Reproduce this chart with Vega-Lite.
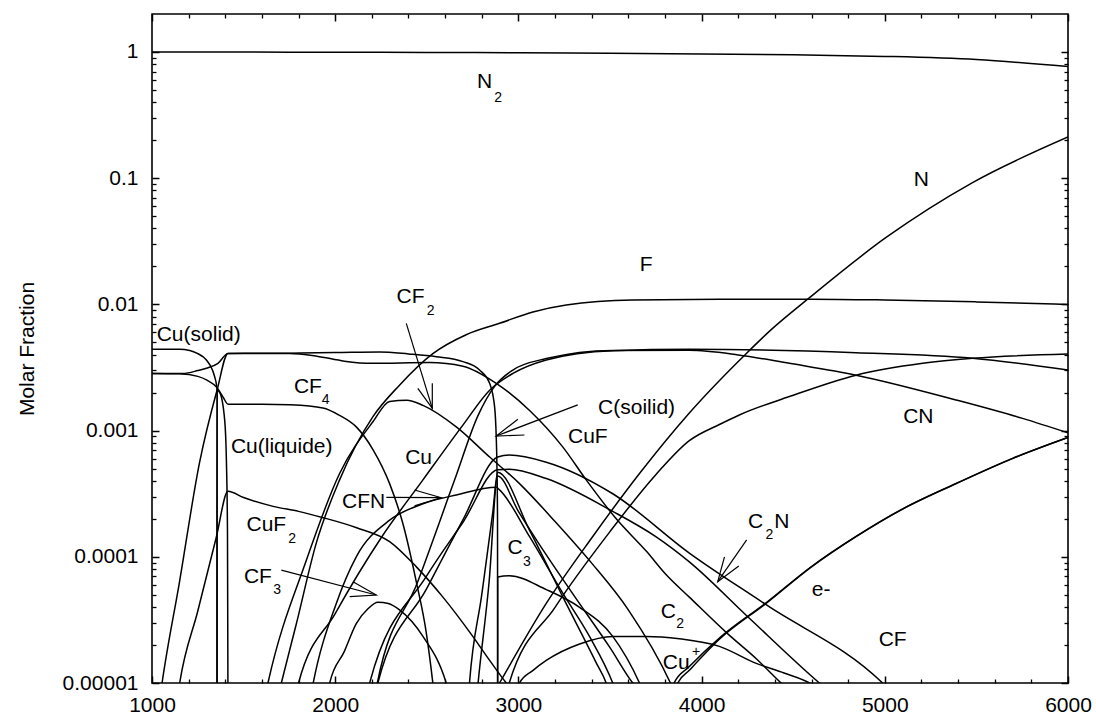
{
"$schema":"https://vega.github.io/schema/vega-lite/v6.json",
"width":916,"height":669,
"autosize":{"type":"none"},
"padding":{"left":152,"top":14,"right":28,"bottom":32},
"background":"white",
"config":{"view":{"stroke":"black","strokeWidth":1.6},"font":"Liberation Sans","axis":{"grid":false}},
"datasets":{
"curves":[
{"s":"N2","T":1000,"v":1},{"s":"N2","T":1500,"v":0.998},{"s":"N2","T":2000,"v":0.995},{"s":"N2","T":2500,"v":0.991},{"s":"N2","T":3000,"v":0.986},{"s":"N2","T":3500,"v":0.977},{"s":"N2","T":4000,"v":0.966},{"s":"N2","T":4500,"v":0.95},{"s":"N2","T":5000,"v":0.923},{"s":"N2","T":5500,"v":0.871},{"s":"N2","T":6000,"v":0.767},
{"s":"N","T":2850,"v":0.0000076},{"s":"N","T":2897,"v":0.00001},{"s":"N","T":3152,"v":0.0000427},{"s":"N","T":3400,"v":0.000141},{"s":"N","T":3661,"v":0.000457},{"s":"N","T":3933,"v":0.00138},{"s":"N","T":4243,"v":0.00407},{"s":"N","T":4380,"v":0.00631},{"s":"N","T":4579,"v":0.011},{"s":"N","T":5007,"v":0.0339},{"s":"N","T":5479,"v":0.0923},{"s":"N","T":6000,"v":0.212},
{"s":"F","T":1680,"v":0.000007},{"s":"F","T":1706,"v":0.00001},{"s":"F","T":1788,"v":0.0000295},{"s":"F","T":1897,"v":0.000129},{"s":"F","T":2024,"v":0.000407},{"s":"F","T":2206,"v":0.00129},{"s":"F","T":2351,"v":0.00229},{"s":"F","T":2533,"v":0.00407},{"s":"F","T":2715,"v":0.00575},{"s":"F","T":2897,"v":0.00708},{"s":"F","T":3079,"v":0.00871},{"s":"F","T":3261,"v":0.00989},{"s":"F","T":3624,"v":0.01084},{"s":"F","T":4097,"v":0.01096},{"s":"F","T":4600,"v":0.011},{"s":"F","T":5000,"v":0.01084},{"s":"F","T":5500,"v":0.01047},{"s":"F","T":6000,"v":0.01},
{"s":"CF2","T":1610,"v":0.000007},{"s":"CF2","T":1633,"v":0.00001},{"s":"CF2","T":1842,"v":0.0000933},{"s":"CF2","T":2024,"v":0.000457},{"s":"CF2","T":2206,"v":0.001175},{"s":"CF2","T":2297,"v":0.0017},{"s":"CF2","T":2390,"v":0.00174},{"s":"CF2","T":2479,"v":0.001585},{"s":"CF2","T":2661,"v":0.00107},{"s":"CF2","T":2843,"v":0.000617},{"s":"CF2","T":3006,"v":0.00038},{"s":"CF2","T":3200,"v":0.0001905},{"s":"CF2","T":3400,"v":0.0000891},{"s":"CF2","T":3600,"v":0.000038},{"s":"CF2","T":3830,"v":0.00001},{"s":"CF2","T":3860,"v":0.000008},
{"s":"Cu","T":1780,"v":0.000007},{"s":"Cu","T":1800,"v":0.00001},{"s":"Cu","T":2000,"v":0.0000355},{"s":"Cu","T":2250,"v":0.000141},{"s":"Cu","T":2479,"v":0.000407},{"s":"Cu","T":2700,"v":0.00112},{"s":"Cu","T":2843,"v":0.00209},{"s":"Cu","T":2970,"v":0.00284},{"s":"Cu","T":3152,"v":0.00363},{"s":"Cu","T":3515,"v":0.0043},{"s":"Cu","T":3933,"v":0.00441},{"s":"Cu","T":4843,"v":0.00414},{"s":"Cu","T":5479,"v":0.00374},{"s":"Cu","T":6000,"v":0.00302},
{"s":"CN","T":2210,"v":0.000007},{"s":"CN","T":2230,"v":0.00001},{"s":"CN","T":2450,"v":0.0000631},{"s":"CN","T":2652,"v":0.000407},{"s":"CN","T":2780,"v":0.00132},{"s":"CN","T":2870,"v":0.00224},{"s":"CN","T":2970,"v":0.00302},{"s":"CN","T":3152,"v":0.00372},{"s":"CN","T":3515,"v":0.00432},{"s":"CN","T":3933,"v":0.00433},{"s":"CN","T":4200,"v":0.00398},{"s":"CN","T":4479,"v":0.00341},{"s":"CN","T":4843,"v":0.00275},{"s":"CN","T":5389,"v":0.00175},{"s":"CN","T":5752,"v":0.00125},{"s":"CN","T":6000,"v":0.00096},
{"s":"C","T":2930,"v":0.000007},{"s":"C","T":2950,"v":0.00001},{"s":"C","T":3200,"v":0.0000398},{"s":"C","T":3500,"v":0.0001585},{"s":"C","T":3750,"v":0.000447},{"s":"C","T":3933,"v":0.000832},{"s":"C","T":4100,"v":0.001122},{"s":"C","T":4206,"v":0.00133},{"s":"C","T":4479,"v":0.00186},{"s":"C","T":4843,"v":0.00275},{"s":"C","T":5207,"v":0.00341},{"s":"C","T":5479,"v":0.00374},{"s":"C","T":6000,"v":0.00405},
{"s":"e-","T":3850,"v":0.000007},{"s":"e-","T":3870,"v":0.00001},{"s":"e-","T":3933,"v":0.0000126},{"s":"e-","T":4100,"v":0.0000224},{"s":"e-","T":4352,"v":0.0000427},{"s":"e-","T":4600,"v":0.0000832},{"s":"e-","T":4843,"v":0.0001445},{"s":"e-","T":5100,"v":0.00024},{"s":"e-","T":5389,"v":0.00038},{"s":"e-","T":5700,"v":0.000603},{"s":"e-","T":6000,"v":0.000881},
{"s":"Cu+","T":3830,"v":0.000007},{"s":"Cu+","T":3850,"v":0.00001},{"s":"Cu+","T":3933,"v":0.0000135},{"s":"Cu+","T":4100,"v":0.0000229},{"s":"Cu+","T":4352,"v":0.0000432},{"s":"Cu+","T":4600,"v":0.0000838},{"s":"Cu+","T":4843,"v":0.000145},{"s":"Cu+","T":5100,"v":0.000241},{"s":"Cu+","T":5389,"v":0.000381},{"s":"Cu+","T":5700,"v":0.000605},{"s":"Cu+","T":6000,"v":0.000883},
{"s":"C2","T":2990,"v":0.000008},{"s":"C2","T":3006,"v":0.00001},{"s":"C2","T":3080,"v":0.0000126},{"s":"C2","T":3152,"v":0.0000151},{"s":"C2","T":3334,"v":0.0000204},{"s":"C2","T":3515,"v":0.0000234},{"s":"C2","T":3697,"v":0.0000234},{"s":"C2","T":3879,"v":0.0000224},{"s":"C2","T":4097,"v":0.0000195},{"s":"C2","T":4298,"v":0.0000143},{"s":"C2","T":4450,"v":0.000012},{"s":"C2","T":4589,"v":0.00001},{"s":"C2","T":4640,"v":0.000009},
{"s":"CFN","T":1860,"v":0.000007},{"s":"CFN","T":1880,"v":0.00001},{"s":"CFN","T":2006,"v":0.0000427},{"s":"CFN","T":2115,"v":0.0001},{"s":"CFN","T":2297,"v":0.000195},{"s":"CFN","T":2479,"v":0.000263},{"s":"CFN","T":2661,"v":0.000309},{"s":"CFN","T":2880,"v":0.000355},{"s":"CFN","T":2897,"v":0.000339},{"s":"CFN","T":3061,"v":0.0001445},{"s":"CFN","T":3243,"v":0.0000513},{"s":"CFN","T":3388,"v":0.0000234},{"s":"CFN","T":3515,"v":0.00001},{"s":"CFN","T":3540,"v":0.000008},
{"s":"CF4","T":1000,"v":0.00284},{"s":"CF4","T":1150,"v":0.00282},{"s":"CF4","T":1250,"v":0.00269},{"s":"CF4","T":1300,"v":0.00251},{"s":"CF4","T":1355,"v":0.00219},{"s":"CF4","T":1390,"v":0.00182},{"s":"CF4","T":1415,"v":0.00162},{"s":"CF4","T":1600,"v":0.00162},{"s":"CF4","T":1751,"v":0.0016},{"s":"CF4","T":1933,"v":0.00151},{"s":"CF4","T":2024,"v":0.00132},{"s":"CF4","T":2115,"v":0.00107},{"s":"CF4","T":2206,"v":0.000708},{"s":"CF4","T":2297,"v":0.00038},{"s":"CF4","T":2370,"v":0.000182},{"s":"CF4","T":2443,"v":0.0000631},{"s":"CF4","T":2497,"v":0.0000251},{"s":"CF4","T":2533,"v":0.00001},{"s":"CF4","T":2545,"v":0.000007},
{"s":"Csol","T":1000,"v":0.00284},{"s":"Csol","T":1169,"v":0.00284},{"s":"Csol","T":1250,"v":0.00299},{"s":"Csol","T":1297,"v":0.00312},{"s":"Csol","T":1360,"v":0.00341},{"s":"Csol","T":1415,"v":0.00409},{"s":"Csol","T":1750,"v":0.00411},{"s":"Csol","T":2000,"v":0.00415},{"s":"Csol","T":2243,"v":0.0042},{"s":"Csol","T":2400,"v":0.00405},{"s":"Csol","T":2552,"v":0.00385},{"s":"Csol","T":2697,"v":0.00352},{"s":"Csol","T":2788,"v":0.00302},{"s":"Csol","T":2843,"v":0.00237},{"s":"Csol","T":2870,"v":0.00155},{"s":"Csol","T":2879,"v":0.00089},{"s":"Csol","T":2883,"v":0.00051},{"s":"Csol","T":2886,"v":0.0002},{"s":"Csol","T":2887,"v":0.000005},
{"s":"CuF","T":1040,"v":0.000007},{"s":"CuF","T":1055,"v":0.00001},{"s":"CuF","T":1150,"v":0.0000631},{"s":"CuF","T":1260,"v":0.000562},{"s":"CuF","T":1355,"v":0.00209},{"s":"CuF","T":1415,"v":0.00409},{"s":"CuF","T":1750,"v":0.00409},{"s":"CuF","T":1900,"v":0.00389},{"s":"CuF","T":2050,"v":0.00355},{"s":"CuF","T":2200,"v":0.00341},{"s":"CuF","T":2515,"v":0.00347},{"s":"CuF","T":2697,"v":0.00324},{"s":"CuF","T":2879,"v":0.00237},{"s":"CuF","T":3061,"v":0.001445},{"s":"CuF","T":3243,"v":0.00074},{"s":"CuF","T":3370,"v":0.000407},{"s":"CuF","T":3534,"v":0.0002},{"s":"CuF","T":3700,"v":0.00011},{"s":"CuF","T":3807,"v":0.000072},{"s":"CuF","T":3933,"v":0.0000479},{"s":"CuF","T":4143,"v":0.0000245},{"s":"CuF","T":4300,"v":0.0000155},{"s":"CuF","T":4434,"v":0.00001},{"s":"CuF","T":4470,"v":0.000009},
{"s":"CuF2","T":1135,"v":0.000007},{"s":"CuF2","T":1151,"v":0.00001},{"s":"CuF2","T":1250,"v":0.0000372},{"s":"CuF2","T":1350,"v":0.000141},{"s":"CuF2","T":1415,"v":0.000331},{"s":"CuF2","T":1500,"v":0.000295},{"s":"CuF2","T":1661,"v":0.000251},{"s":"CuF2","T":1800,"v":0.000229},{"s":"CuF2","T":1935,"v":0.000204},{"s":"CuF2","T":2117,"v":0.00017},{"s":"CuF2","T":2297,"v":0.000132},{"s":"CuF2","T":2443,"v":0.0000832},{"s":"CuF2","T":2588,"v":0.0000479},{"s":"CuF2","T":2751,"v":0.0000234},{"s":"CuF2","T":2843,"v":0.0000151},{"s":"CuF2","T":2934,"v":0.00001},{"s":"CuF2","T":2960,"v":0.000009},
{"s":"Cusol","T":1000,"v":0.00441},{"s":"Cusol","T":1150,"v":0.00441},{"s":"Cusol","T":1206,"v":0.00432},{"s":"Cusol","T":1250,"v":0.00407},{"s":"Cusol","T":1297,"v":0.00363},{"s":"Cusol","T":1330,"v":0.00302},{"s":"Cusol","T":1342,"v":0.00267},{"s":"Cusol","T":1352,"v":0.00229},{"s":"Cusol","T":1355,"v":0.00209},{"s":"Cusol","T":1355.5,"v":0.000005},
{"s":"Culiq","T":1354.5,"v":0.000005},{"s":"Culiq","T":1355,"v":0.00209},{"s":"Culiq","T":1370,"v":0.002},{"s":"Culiq","T":1397,"v":0.0012},{"s":"Culiq","T":1406,"v":0.000589},{"s":"Culiq","T":1412,"v":0.0001585},{"s":"Culiq","T":1415,"v":0.000005},
{"s":"CF3","T":1955,"v":0.000007},{"s":"CF3","T":1970,"v":0.00001},{"s":"CF3","T":2050,"v":0.0000178},{"s":"CF3","T":2115,"v":0.0000295},{"s":"CF3","T":2180,"v":0.0000389},{"s":"CF3","T":2233,"v":0.0000437},{"s":"CF3","T":2290,"v":0.0000427},{"s":"CF3","T":2351,"v":0.000038},{"s":"CF3","T":2479,"v":0.0000234},{"s":"CF3","T":2606,"v":0.00001},{"s":"CF3","T":2625,"v":0.000008},
{"s":"C2N","T":2215,"v":0.000007},{"s":"C2N","T":2233,"v":0.00001},{"s":"C2N","T":2500,"v":0.0000562},{"s":"C2N","T":2700,"v":0.0002},{"s":"C2N","T":2887,"v":0.000617},{"s":"C2N","T":2950,"v":0.00064},{"s":"C2N","T":3152,"v":0.000562},{"s":"C2N","T":3515,"v":0.000316},{"s":"C2N","T":3933,"v":0.000107},{"s":"C2N","T":4352,"v":0.0000417},{"s":"C2N","T":4988,"v":0.00001},{"s":"C2N","T":5020,"v":0.000009},
{"s":"D2","T":2170,"v":0.000007},{"s":"D2","T":2188,"v":0.00001},{"s":"D2","T":2500,"v":0.0000708},{"s":"D2","T":2700,"v":0.0001905},{"s":"D2","T":2887,"v":0.00049},{"s":"D2","T":2950,"v":0.000495},{"s":"D2","T":3152,"v":0.000417},{"s":"D2","T":3515,"v":0.000229},{"s":"D2","T":3750,"v":0.0001445},{"s":"D2","T":3933,"v":0.0000912},{"s":"D2","T":4252,"v":0.0000335},{"s":"D2","T":4643,"v":0.00001},{"s":"D2","T":4680,"v":0.000009},
{"s":"S1","T":2725,"v":0.000007},{"s":"S1","T":2733,"v":0.00001},{"s":"S1","T":2800,"v":0.0000501},{"s":"S1","T":2860,"v":0.000224},{"s":"S1","T":2887,"v":0.000468},{"s":"S1","T":3061,"v":0.000162},{"s":"S1","T":3243,"v":0.0000479},{"s":"S1","T":3425,"v":0.00001445},{"s":"S1","T":3479,"v":0.00001},{"s":"S1","T":3500,"v":0.000008},
{"s":"S2","T":2770,"v":0.000007},{"s":"S2","T":2780,"v":0.00001},{"s":"S2","T":2840,"v":0.0000631},{"s":"S2","T":2887,"v":0.000437},{"s":"S2","T":3000,"v":0.000229},{"s":"S2","T":3100,"v":0.000135},{"s":"S2","T":3300,"v":0.0000501},{"s":"S2","T":3500,"v":0.00001905},{"s":"S2","T":3624,"v":0.00001},{"s":"S2","T":3650,"v":0.000009},
{"s":"C3","T":2886.5,"v":0.000005},{"s":"C3","T":2887,"v":0.0000692},{"s":"C3","T":2950,"v":0.0000708},{"s":"C3","T":3152,"v":0.000055},{"s":"C3","T":3334,"v":0.0000398},{"s":"C3","T":3515,"v":0.0000234},{"s":"C3","T":3661,"v":0.00001},{"s":"C3","T":3690,"v":0.000008}
],
"arrows":[
{"id":"a1","i":0,"T":2388,"v":0.00708},{"id":"a1","i":1,"T":2530,"v":0.0015},
{"id":"h1","i":0,"T":2530,"v":0.00237},{"id":"h1","i":1,"T":2530,"v":0.0015},{"id":"h1","i":2,"T":2451,"v":0.00216},
{"id":"a2","i":0,"T":3324,"v":0.0016},{"id":"a2","i":1,"T":2879,"v":0.000906},
{"id":"h2","i":0,"T":2997,"v":0.00123},{"id":"h2","i":1,"T":2879,"v":0.000906},{"id":"h2","i":2,"T":3033,"v":0.000923},
{"id":"a3","i":0,"T":2279,"v":0.000296},{"id":"a3","i":1,"T":2579,"v":0.000294},
{"id":"h3","i":0,"T":2433,"v":0.000338},{"id":"h3","i":1,"T":2579,"v":0.000294},{"id":"h3","i":2,"T":2433,"v":0.000253},
{"id":"a4","i":0,"T":1706,"v":0.0000785},{"id":"a4","i":1,"T":2224,"v":0.0000498},
{"id":"h4","i":0,"T":2097,"v":0.0000635},{"id":"h4","i":1,"T":2224,"v":0.0000498},{"id":"h4","i":2,"T":2079,"v":0.0000483},
{"id":"a5","i":0,"T":4246,"v":0.000136},{"id":"a5","i":1,"T":4088,"v":0.0000635},
{"id":"h5","i":0,"T":4125,"v":0.0001},{"id":"h5","i":1,"T":4088,"v":0.0000635},{"id":"h5","i":2,"T":4203,"v":0.0000845}
],
"labels":[
{"t":"N","T":2815,"v":0.582},{"t":"N","T":5199,"v":0.0968},{"t":"F","T":3697,"v":0.0205},{"t":"CF","T":2411,"v":0.01135},{"t":"Cu(solid)","T":1255,"v":0.00573},{"t":"CF","T":1851,"v":0.00223},{"t":"Cu(liquide)","T":1708,"v":0.000741},{"t":"Cu","T":2455,"v":0.000607},{"t":"C(soilid)","T":3645,"v":0.00151},{"t":"CuF","T":3379,"v":0.000895},{"t":"CFN","T":2155,"v":0.000272},{"t":"CuF","T":1624,"v":0.000179},{"t":"CF","T":1578,"v":0.0000698},{"t":"C","T":2982,"v":0.0001175},{"t":"C","T":3819,"v":0.0000362},{"t":"Cu","T":3861,"v":0.0000145},{"t":"C","T":4295,"v":0.00019},{"t":"N","T":4438,"v":0.00019},{"t":"e-","T":4652,"v":0.0000545},{"t":"CN","T":5183,"v":0.00129},{"t":"CF","T":5043,"v":0.0000219}
],
"subs":[
{"t":"2","T":2889,"v":0.43},{"t":"2","T":2521,"v":0.00887},{"t":"4","T":1948,"v":0.00175},{"t":"2","T":1765,"v":0.000138},{"t":"3","T":1683,"v":0.0000545},{"t":"3","T":3047,"v":0.0000914},{"t":"2","T":3883,"v":0.0000294},{"t":"+","T":3970,"v":0.0000177},{"t":"2","T":4370,"v":0.000149}
],
"one":[{"T":1000,"v":1}]
},
"layer":[
{"data":{"name":"curves"},
 "mark":{"type":"line","color":"black","strokeWidth":1.5,"clip":true,"interpolate":"monotone"},
 "encoding":{
  "x":{"field":"T","type":"quantitative","scale":{"domain":[1000,6000],"nice":false,"zero":false},
       "axis":{"orient":"bottom","values":[1000,2000,3000,4000,5000,6000],"format":"d","title":null,"domain":false,"labelFontSize":21,"labelFont":"Liberation Sans","labelColor":"black","labelPadding":18,"labelFlush":false,"labelOverlap":false,"tickSize":-7,"tickColor":"black","tickWidth":1.5}},
  "y":{"field":"v","type":"quantitative","scale":{"type":"log","domain":[0.00001,2],"nice":false},
       "axis":{"orient":"left","values":[0.00001,0.0001,0.001,0.01,0.1,1],"format":".5~f","title":"Molar Fraction","titleFont":"Liberation Sans","titleFontSize":21,"titleFontWeight":"normal","titleColor":"black","titlePadding":25,"domain":false,"labelFontSize":21,"labelFont":"Liberation Sans","labelColor":"black","labelPadding":21,"labelOverlap":false,"labelFlush":false,"tickSize":-7,"tickColor":"black","tickWidth":1.5}},
  "detail":{"field":"s","type":"nominal"}
 }},
{"data":{"name":"arrows"},
 "mark":{"type":"line","color":"black","strokeWidth":1.2,"clip":true},
 "encoding":{
  "x":{"field":"T","type":"quantitative","scale":{"domain":[1000,6000],"nice":false,"zero":false},"axis":null},
  "y":{"field":"v","type":"quantitative","scale":{"type":"log","domain":[0.00001,2],"nice":false},"axis":null},
  "detail":{"field":"id","type":"nominal"},
  "order":{"field":"i","type":"quantitative"}
 }},
{"data":{"name":"labels"},
 "mark":{"type":"text","font":"Liberation Sans","fontSize":21,"align":"center","baseline":"middle","color":"black"},
 "encoding":{
  "x":{"field":"T","type":"quantitative","scale":{"domain":[1000,6000],"nice":false,"zero":false},"axis":null},
  "y":{"field":"v","type":"quantitative","scale":{"type":"log","domain":[0.00001,2],"nice":false},"axis":null},
  "text":{"field":"t","type":"nominal"}
 }},
{"data":{"name":"subs"},
 "mark":{"type":"text","font":"Liberation Sans","fontSize":14,"align":"center","baseline":"middle","color":"black"},
 "encoding":{
  "x":{"field":"T","type":"quantitative","scale":{"domain":[1000,6000],"nice":false,"zero":false},"axis":null},
  "y":{"field":"v","type":"quantitative","scale":{"type":"log","domain":[0.00001,2],"nice":false},"axis":null},
  "text":{"field":"t","type":"nominal"}
 }},
{"data":{"name":"one"},
 "mark":{"type":"point","opacity":0},
 "encoding":{
  "x":{"field":"T","type":"quantitative","scale":{"domain":[1000,6000],"nice":false,"zero":false},
       "axis":{"orient":"top","values":[1000,2000,3000,4000,5000,6000],"labels":false,"title":null,"domain":false,"tickSize":-7,"tickColor":"black","tickWidth":1.5}},
  "y":{"field":"v","type":"quantitative","scale":{"type":"log","domain":[0.00001,2],"nice":false},
       "axis":{"orient":"right","values":[0.00001,0.0001,0.001,0.01,0.1,1],"labels":false,"title":null,"domain":false,"tickSize":-7,"tickColor":"black","tickWidth":1.5}}
 }},
{"data":{"name":"one"},
 "mark":{"type":"point","opacity":0},
 "encoding":{
  "x":{"field":"T","type":"quantitative","scale":{"domain":[1000,6000],"nice":false,"zero":false},
       "axis":{"orient":"bottom","values":[1200,1400,1600,1800,2200,2400,2600,2800,3200,3400,3600,3800,4200,4400,4600,4800,5200,5400,5600,5800],"labels":false,"title":null,"domain":false,"tickSize":-4,"tickColor":"black","tickWidth":1.3}},
  "y":{"field":"v","type":"quantitative","scale":{"type":"log","domain":[0.00001,2],"nice":false},
       "axis":{"orient":"left","values":[0.00002,0.00003,0.00004,0.00005,0.00006,0.00007,0.00008,0.00009,0.0002,0.0003,0.0004,0.0005,0.0006,0.0007,0.0008,0.0009,0.002,0.003,0.004,0.005,0.006,0.007,0.008,0.009,0.02,0.03,0.04,0.05,0.06,0.07,0.08,0.09,0.2,0.3,0.4,0.5,0.6,0.7,0.8,0.9],"labels":false,"title":null,"domain":false,"tickSize":-4,"tickColor":"black","tickWidth":1.3}}
 }},
{"data":{"name":"one"},
 "mark":{"type":"point","opacity":0},
 "encoding":{
  "x":{"field":"T","type":"quantitative","scale":{"domain":[1000,6000],"nice":false,"zero":false},
       "axis":{"orient":"top","values":[1200,1400,1600,1800,2200,2400,2600,2800,3200,3400,3600,3800,4200,4400,4600,4800,5200,5400,5600,5800],"labels":false,"title":null,"domain":false,"tickSize":-4,"tickColor":"black","tickWidth":1.3}},
  "y":{"field":"v","type":"quantitative","scale":{"type":"log","domain":[0.00001,2],"nice":false},
       "axis":{"orient":"right","values":[0.00002,0.00003,0.00004,0.00005,0.00006,0.00007,0.00008,0.00009,0.0002,0.0003,0.0004,0.0005,0.0006,0.0007,0.0008,0.0009,0.002,0.003,0.004,0.005,0.006,0.007,0.008,0.009,0.02,0.03,0.04,0.05,0.06,0.07,0.08,0.09,0.2,0.3,0.4,0.5,0.6,0.7,0.8,0.9],"labels":false,"title":null,"domain":false,"tickSize":-4,"tickColor":"black","tickWidth":1.3}}
 }}
],
"resolve":{"axis":{"x":"independent","y":"independent"}}
}
